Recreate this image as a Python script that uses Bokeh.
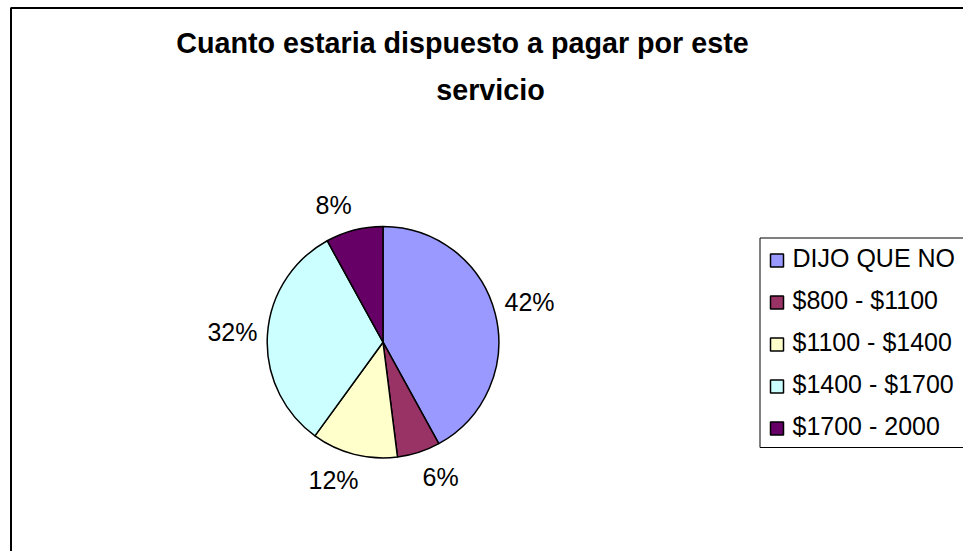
import math
from bokeh.plotting import figure
from bokeh.models import Range1d, ColumnDataSource
from bokeh.core.properties import value
from bokeh.embed import file_html
from bokeh.resources import INLINE

# ---- data ----
categories = ["DIJO QUE NO", "$800 - $1100", "$1100 - $1400", "$1400 - $1700", "$1700 - 2000"]
values = [42, 6, 12, 32, 8]
colors = ["#9999FF", "#993366", "#FFFFCC", "#CCFFFF", "#660066"]
title_lines = ["Cuanto estaria dispuesto a pagar por este", "servicio"]

W, H = 963, 551
FONT = "Liberation Sans"

p = figure(width=W, height=H, output_backend="svg", toolbar_location=None,
           x_range=Range1d(0, W), y_range=Range1d(0, H), min_border=0,
           background_fill_color="white", border_fill_color="white")
p.axis.visible = False
p.grid.visible = False
p.outline_line_color = None


def px(x):  # page x -> data x
    return x


def py(y):  # page y -> data y
    return H - y


# chart frame (right/bottom edges lie outside the window)
p.quad(left=px(10.5), right=px(1000), bottom=py(600), top=py(7.5),
       fill_color=None, line_color="black", line_width=2)

# title
p.text(x=[px(462)], y=[py(42)], text=[title_lines[0]], text_font=value(FONT),
       text_font_size="28.7px", text_font_style="bold", text_align="center",
       text_baseline="middle", text_color="black")
p.text(x=[px(490)], y=[py(89.5)], text=[title_lines[1]], text_font=value(FONT),
       text_font_size="28.7px", text_font_style="bold", text_align="center",
       text_baseline="middle", text_color="black")

# pie
cx, cy, r = px(382.5), py(341.7), 115.8
total = float(sum(values))
starts, ends, lx, ly, labels = [], [], [], [], []
cum = 0.0
for v in values:
    a0 = math.pi / 2 - 2 * math.pi * cum / total
    a1 = math.pi / 2 - 2 * math.pi * (cum + v) / total
    starts.append(a0)
    ends.append(a1)
    mid = (a0 + a1) / 2
    dx, dy = math.cos(mid), math.sin(mid)
    sx = max(-1.0, min(1.0, dx * 4))
    sy = max(-1.0, min(1.0, dy * 4))
    R = r + 19
    lx.append(cx + R * dx + 16 * sx)
    ly.append(cy + R * dy + 7 * sy)
    labels.append(f"{v}%")
    cum += v

src = ColumnDataSource(dict(start=starts, end=ends, color=colors, lx=lx, ly=ly, label=labels))
p.wedge(x=cx, y=cy, radius=r, start_angle="start", end_angle="end", direction="clock",
        fill_color="color", line_color="black", line_width=1.5, source=src)
p.text(x="lx", y="ly", text="label", source=src, text_font=value(FONT), text_font_size="25px",
       text_align="center", text_baseline="middle", text_color="black")

# legend
p.quad(left=px(759.5), right=px(1000), bottom=py(447), top=py(237.5),
       fill_color="white", line_color="black", line_width=1)
rows_y = [py(260 + 42 * i) for i in range(len(categories))]
p.rect(x=[px(776.5)] * len(categories), y=rows_y, width=13, height=13,
       fill_color=colors, line_color="black", line_width=1.5)
p.text(x=[px(792)] * len(categories), y=[y + 2.5 for y in rows_y], text=categories,
       text_font=value(FONT), text_font_size="25px", text_align="left",
       text_baseline="middle", text_color="black")

open("out.html", "w").write(file_html(p, INLINE))
